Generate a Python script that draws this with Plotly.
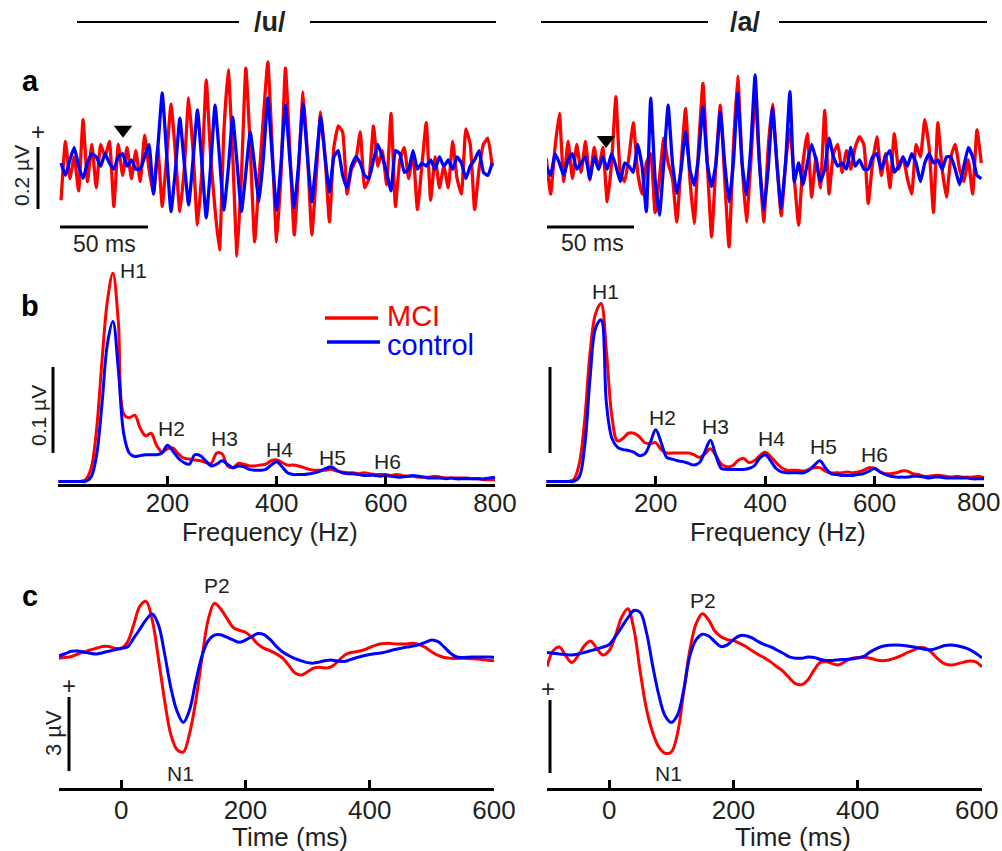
import plotly.graph_objects as go

# ------------------------------------------------------------------ data
# (a) frequency-following responses, µV, sampled every FFR_DT_MS from FFR_T0
FFR_DT_MS = 2.5
FFR_T0_U = -35.2
FFR_T0_A = -34.3

FFR_U_MCI = [
    -0.12, 0.07, -0.05, 0.02, -0.09, 0.14, -0.06, 0.06, -0.08, 0.06,
    0.02, 0.07, -0.14, 0.06, -0.04, 0.05, -0.05, 0.04, -0.06, 0.09,
    -0.02, -0.10, 0.05, -0.14, 0.02, 0.19, 0.03, -0.157, -0.02, 0.21,
    0.04, -0.20, -0.03, 0.268, 0.02, -0.15, -0.28, 0.10, 0.30, 0.03,
    -0.30, -0.04, 0.306, 0.05, -0.254, -0.05, 0.15, 0.326, 0.05, -0.254,
    -0.03, 0.306, 0.04, -0.232, -0.02, 0.229, 0.03, -0.232, -0.04, 0.165,
    0.02, -0.19, 0.05, 0.12, 0.10, -0.10, -0.02, 0.01, 0.10, -0.08,
    -0.05, 0.12, -0.01, 0.04, -0.07, 0.16, -0.14, 0.01, 0.05, -0.05,
    0.03, -0.15, -0.01, 0.13, -0.12, 0.02, -0.08, -0.01, -0.08, 0.07,
    -0.05, -0.10, 0.11, 0.06, -0.15, -0.02, 0.06, 0.08, -0.01,
]
FFR_U_CTRL = [
    0.0, -0.04, 0.01, 0.05, -0.01, -0.05, 0.0, 0.03, 0.02, -0.01,
    0.03, 0.0, -0.02, 0.02, 0.03, -0.01, 0.01, -0.02, -0.02, 0.02,
    0.06, -0.10, 0.05, 0.226, 0.03, -0.157, -0.02, 0.145, 0.0, -0.135,
    0.01, 0.171, 0.0, -0.177, -0.01, 0.187, 0.02, -0.152, -0.02, 0.148,
    0.0, -0.157, -0.03, 0.10, -0.01, -0.125, 0.02, 0.21, 0.02, -0.152,
    0.0, 0.187, 0.01, -0.145, 0.0, 0.19, 0.02, -0.125, 0.01, 0.148,
    0.02, -0.093, 0.02, 0.04, -0.04, -0.08, -0.01, 0.02, 0.0, -0.04,
    -0.05, 0.01, 0.06, 0.02, -0.03, -0.09, 0.04, 0.03, -0.03, -0.02,
    0.04, -0.02, 0.0, -0.01, 0.01, -0.02, 0.02, -0.01, 0.01, -0.02,
    0.02, 0.0, -0.05, -0.01, 0.01, 0.04, -0.03, -0.04, 0.0,
]
FFR_A_MCI = [
    0.015, -0.10, 0.05, 0.16, -0.06, 0.07, -0.05, 0.06, -0.03, 0.07,
    -0.055, 0.05, -0.02, 0.05, -0.125, 0.0, 0.214, -0.03, -0.06, 0.02,
    0.13, -0.03, -0.10, 0.0, 0.03, -0.16, -0.05, 0.08, 0.0, -0.05,
    -0.19, 0.0, 0.176, -0.05, -0.195, 0.05, 0.257, 0.0, -0.238, 0.0,
    0.187, -0.05, -0.27, 0.05, 0.28, 0.0, -0.19, 0.0, 0.214, 0.0,
    -0.19, 0.05, 0.19, 0.0, -0.17, 0.0, 0.11, -0.05, -0.20, 0.0,
    0.095, -0.11, 0.02, -0.08, 0.17, -0.10, 0.03, 0.06, -0.03, 0.04,
    -0.02, 0.05, 0.085, 0.06, -0.13, 0.0, 0.085, -0.04, 0.03, -0.08,
    0.095, -0.02, 0.02, -0.05, -0.10, 0.06, 0.02, 0.14, 0.05, -0.16,
    0.13, -0.02, -0.11, 0.02, 0.06, -0.02, -0.06, 0.01, -0.10, 0.107,
    0.0,
]
FFR_A_CTRL = [
    -0.01, -0.04, 0.03, 0.0, -0.04, 0.01, 0.03, -0.02, 0.0, 0.02,
    -0.05, 0.02, -0.02, 0.02, -0.02, 0.03, -0.01, -0.06, 0.0, -0.01,
    -0.03, 0.06, -0.01, -0.157, 0.209, -0.05, -0.168, 0.0, 0.187, 0.0,
    -0.098, -0.02, 0.101, -0.02, -0.071, 0.02, 0.181, 0.0, -0.076, 0.0,
    0.165, 0.0, -0.125, 0.0, 0.225, 0.0, -0.103, 0.05, 0.284, 0.0,
    -0.152, -0.02, 0.176, 0.0, -0.147, 0.0, 0.23, -0.06, 0.0, -0.07,
    0.0, 0.06, 0.01, -0.06, -0.02, 0.08, 0.02, -0.01, 0.0, -0.02,
    0.05, -0.01, 0.01, -0.02, -0.02, 0.02, 0.03, -0.02, 0.02, 0.04,
    -0.03, -0.01, 0.02, -0.01, 0.03, 0.0, -0.06, 0.0, 0.03, 0.0,
    0.01, -0.02, 0.02, 0.02, -0.02, -0.07, -0.01, 0.05, 0.02, -0.04,
    -0.05,
]
STIM_ONSET_MS = 0.0

# (b) spectra, µV, every SPEC_DF_HZ from 0 Hz
SPEC_F0_HZ = 0
SPEC_DF_HZ = 10
SPEC_U_MCI = [
    0, 0, 0, 0, 0, 0.002, 0.015, 0.06, 0.14, 0.21,
    0.242, 0.185, 0.078, 0.074, 0.077, 0.062, 0.053, 0.056, 0.042, 0.034,
    0.038, 0.039, 0.032, 0.027, 0.026, 0.025, 0.024, 0.022, 0.021, 0.033,
    0.032, 0.018, 0.016, 0.021, 0.020, 0.018, 0.018, 0.019, 0.020, 0.024,
    0.025, 0.022, 0.019, 0.019, 0.018, 0.016, 0.014, 0.013, 0.013, 0.013,
    0.014, 0.012, 0.011, 0.010, 0.010, 0.009, 0.010, 0.009, 0.008, 0.008,
    0.008, 0.007, 0.008, 0.007, 0.006, 0.006, 0.005, 0.005, 0.005, 0.006,
    0.005, 0.004, 0.004, 0.004, 0.004, 0.004, 0.003, 0.003, 0.002, 0.002,
    0.002,
]
SPEC_U_CTRL = [
    0, 0, 0, 0, 0, 0, 0.005, 0.03, 0.09, 0.16,
    0.186, 0.13, 0.055, 0.033, 0.029, 0.030, 0.031, 0.031, 0.031, 0.033,
    0.042, 0.035, 0.027, 0.022, 0.020, 0.031, 0.030, 0.024, 0.018, 0.020,
    0.024, 0.020, 0.016, 0.018, 0.017, 0.014, 0.013, 0.013, 0.014, 0.019,
    0.023, 0.017, 0.010, 0.008, 0.008, 0.008, 0.009, 0.010, 0.012, 0.015,
    0.017, 0.013, 0.010, 0.009, 0.009, 0.008, 0.007, 0.007, 0.007, 0.006,
    0.007, 0.006, 0.005, 0.005, 0.006, 0.007, 0.006, 0.005, 0.004, 0.004,
    0.004, 0.003, 0.004, 0.003, 0.003, 0.003, 0.003, 0.003, 0.003, 0.004,
    0.005,
]
SPEC_A_MCI = [
    0, 0, 0, 0, 0, 0.002, 0.02, 0.07, 0.15, 0.195,
    0.207, 0.15, 0.075, 0.047, 0.050, 0.056, 0.056, 0.052, 0.045, 0.044,
    0.045, 0.037, 0.033, 0.033, 0.033, 0.033, 0.033, 0.031, 0.028, 0.032,
    0.038, 0.030, 0.020, 0.017, 0.018, 0.024, 0.027, 0.022, 0.024, 0.030,
    0.034, 0.029, 0.022, 0.016, 0.013, 0.013, 0.013, 0.012, 0.014, 0.016,
    0.016, 0.012, 0.010, 0.010, 0.010, 0.011, 0.010, 0.011, 0.013, 0.016,
    0.015, 0.011, 0.009, 0.009, 0.010, 0.012, 0.012, 0.009, 0.008, 0.006,
    0.006, 0.007, 0.007, 0.006, 0.005, 0.006, 0.005, 0.005, 0.005, 0.006,
    0.004,
]
SPEC_A_CTRL = [
    0, 0, 0, 0, 0, 0, 0.005, 0.04, 0.12, 0.178,
    0.188, 0.09, 0.050, 0.040, 0.037, 0.036, 0.034, 0.030, 0.032, 0.045,
    0.060, 0.045, 0.028, 0.026, 0.024, 0.023, 0.021, 0.019, 0.022, 0.035,
    0.048, 0.030, 0.015, 0.014, 0.014, 0.014, 0.014, 0.015, 0.018, 0.027,
    0.031, 0.024, 0.015, 0.011, 0.010, 0.010, 0.010, 0.010, 0.013, 0.019,
    0.024, 0.016, 0.009, 0.008, 0.007, 0.007, 0.007, 0.008, 0.009, 0.012,
    0.015, 0.011, 0.008, 0.006, 0.005, 0.005, 0.005, 0.006, 0.006, 0.005,
    0.004, 0.005, 0.005, 0.004, 0.004, 0.004, 0.004, 0.004, 0.003, 0.003,
    0.003,
]
HARMONICS = ["H1", "H2", "H3", "H4", "H5", "H6"]
H_LABEL_HZ_U = [137, 208, 304, 405, 502, 603]
H_LABEL_UV_U = [0.245, 0.062, 0.050, 0.037, 0.028, 0.023]
H_LABEL_HZ_A = [108, 213, 309, 411, 507, 600]
H_LABEL_UV_A = [0.221, 0.074, 0.064, 0.050, 0.041, 0.031]

# (c) cortical ERPs, µV, every 10 ms from -100 ms
ERP_T0_MS = -100
ERP_DT_MS = 10
ERP_U_MCI = [
    -0.25, -0.22, -0.18, -0.08, 0.0, 0.08, 0.15, 0.22, 0.22, 0.15,
    0.14, 0.39, 1.09, 1.85, 2.05, 1.3, -0.26, -1.97, -3.35, -3.95,
    -4.05, -3.31, -2.0, -0.25, 1.29, 1.97, 1.75, 1.37, 1.0, 0.88,
    0.8, 0.6, 0.32, 0.15, 0.05, -0.08, -0.25, -0.55, -0.85, -0.93,
    -0.8, -0.65, -0.62, -0.65, -0.57, -0.35, -0.12, -0.02, 0.02, 0.08,
    0.18, 0.28, 0.33, 0.35, 0.33, 0.32, 0.33, 0.35, 0.3, 0.18,
    0.0, -0.14, -0.22, -0.25, -0.26, -0.25, -0.26, -0.28, -0.3, -0.33,
    -0.35,
]
ERP_U_CTRL = [
    -0.16, -0.07, 0.03, 0.04, 0.0, -0.05, -0.08, -0.03, 0.03, 0.09,
    0.15, 0.2, 0.55, 0.92, 1.3, 1.54, 1.1, -0.08, -1.45, -2.4,
    -2.85, -2.35, -1.2, -0.17, 0.45, 0.68, 0.7, 0.6, 0.49, 0.39,
    0.48, 0.62, 0.75, 0.7, 0.5, 0.22, 0.0, -0.15, -0.27, -0.36,
    -0.43, -0.45, -0.4, -0.34, -0.33, -0.37, -0.38, -0.3, -0.22, -0.15,
    -0.1, -0.06, -0.03, 0.03, 0.1, 0.15, 0.2, 0.24, 0.3, 0.4,
    0.49, 0.42, 0.2, -0.05, -0.2, -0.22, -0.21, -0.2, -0.2, -0.2,
    -0.21,
]
ERP_A_MCI = [
    -0.59, 0.05, 0.2, -0.15, -0.42, -0.15, 0.25, 0.45, 0.15, -0.12,
    0.05, 0.65, 1.4, 1.75, 0.9, -0.8, -2.3, -3.25, -3.85, -4.1,
    -4.05, -3.3, -1.6, 0.1, 1.15, 1.55, 1.3, 0.85, 0.62, 0.5,
    0.46, 0.35, 0.22, 0.05, -0.1, -0.24, -0.4, -0.6, -0.78, -1.05,
    -1.28, -1.32, -1.12, -0.72, -0.42, -0.4, -0.48, -0.52, -0.38, -0.26,
    -0.22, -0.21, -0.25, -0.32, -0.35, -0.32, -0.25, -0.15, -0.02, 0.08,
    0.18, 0.15, -0.05, -0.3, -0.48, -0.53, -0.48, -0.42, -0.36, -0.4,
    -0.6,
]
ERP_A_CTRL = [
    -0.02, -0.05, -0.08, -0.1, -0.12, -0.08, -0.02, 0.05, 0.12, 0.2,
    0.3, 0.62, 1.0, 1.38, 1.68, 1.6, 0.8, -0.55, -1.75, -2.58,
    -2.85, -2.55, -1.54, -0.15, 0.5, 0.72, 0.65, 0.42, 0.22, 0.29,
    0.5, 0.66, 0.66, 0.57, 0.42, 0.3, 0.21, 0.08, -0.05, -0.2,
    -0.25, -0.25, -0.2, -0.22, -0.3, -0.34, -0.34, -0.31, -0.3, -0.28,
    -0.24, -0.18, 0.0, 0.14, 0.23, 0.27, 0.28, 0.27, 0.24, 0.2,
    0.15, 0.1, 0.1, 0.18, 0.26, 0.28, 0.25, 0.19, 0.1, -0.05,
    -0.24,
]
ERP_LABELS = ["P2", "N1"]
ERP_LABEL_MS_U = [155, 95]
ERP_LABEL_UV_U = [2.7, -4.9]
ERP_LABEL_MS_A = [151, 95]
ERP_LABEL_UV_A = [2.1, -4.9]

FREQ_TICKS = [0, 200, 400, 600, 800]
TIME_TICKS = [0, 200, 400, 600]

# ------------------------------------------------------------------ style
W, H = 1002, 851          # reference canvas; all geometry below is expressed in these pixels
RED, BLUE, INK = "#ff0000", "#0000ff", "#231f20"
FONT = "Liberation Sans, Arial, Helvetica, sans-serif"


def px(x):
    return x / W


def py(y):
    return 1 - y / H


fig = go.Figure()

# panel geometry in pixels: x-domain, x-range, y-domain (top, bottom), y-range
PANELS = {
    1: dict(xd=(59, 495), xr=(-36.36, 211.36), yd=(50, 270), yr=(-0.345, 0.3645)),
    2: dict(xd=(547, 984), xr=(-33.91, 217.24), yd=(50, 270), yr=(-0.345, 0.3645)),
    3: dict(xd=(58.3, 495), xr=(0, 800), yd=(258, 484), yr=(-0.003, 0.2598)),
    4: dict(xd=(546.3, 984), xr=(0, 800), yd=(258, 484), yr=(-0.003, 0.2598)),
    5: dict(xd=(59, 494), xr=(-100, 600), yd=(560, 788), yr=(-5.506, 3.725)),
    6: dict(xd=(547, 982), xr=(-100, 600), yd=(560, 788), yr=(-5.506, 3.725)),
}


def ax(n):
    return ("x" if n == 1 else f"x{n}"), ("y" if n == 1 else f"y{n}")


def add_line(n, y, color, x0, dx, shape="spline", smooth=1.0, width=3):
    xa, ya = ax(n)
    fig.add_trace(go.Scatter(
        x0=x0, dx=dx, y=y, mode="lines", xaxis=xa, yaxis=ya,
        line=dict(color=color, width=width, shape=shape, smoothing=smooth),
        showlegend=False, hoverinfo="skip"))


# (a)
add_line(1, FFR_U_MCI, RED, FFR_T0_U, FFR_DT_MS, smooth=0.4, width=3.3)
add_line(1, FFR_U_CTRL, BLUE, FFR_T0_U, FFR_DT_MS, smooth=0.4, width=3.3)
add_line(2, FFR_A_MCI, RED, FFR_T0_A, FFR_DT_MS, smooth=0.4, width=3.3)
add_line(2, FFR_A_CTRL, BLUE, FFR_T0_A, FFR_DT_MS, smooth=0.4, width=3.3)
for n, yv in ((1, 0.107), (2, 0.074)):
    xa, ya = ax(n)
    fig.add_trace(go.Scatter(x=[STIM_ONSET_MS], y=[yv], mode="markers", xaxis=xa, yaxis=ya,
                             marker=dict(symbol="triangle-down", size=16, color="black"),
                             showlegend=False, hoverinfo="skip"))
# (b)
add_line(3, SPEC_U_MCI, RED, SPEC_F0_HZ, SPEC_DF_HZ)
add_line(3, SPEC_U_CTRL, BLUE, SPEC_F0_HZ, SPEC_DF_HZ)
add_line(4, SPEC_A_MCI, RED, SPEC_F0_HZ, SPEC_DF_HZ)
add_line(4, SPEC_A_CTRL, BLUE, SPEC_F0_HZ, SPEC_DF_HZ)
# (c)
add_line(5, ERP_U_MCI, RED, ERP_T0_MS, ERP_DT_MS)
add_line(5, ERP_U_CTRL, BLUE, ERP_T0_MS, ERP_DT_MS)
add_line(6, ERP_A_MCI, RED, ERP_T0_MS, ERP_DT_MS)
add_line(6, ERP_A_CTRL, BLUE, ERP_T0_MS, ERP_DT_MS)

layout = dict(
    autosize=True,
    margin=dict(l=0, r=0, t=0, b=0, pad=0, autoexpand=False),
    paper_bgcolor="white", plot_bgcolor="rgba(0,0,0,0)",
    font=dict(family=FONT, color=INK),
    showlegend=False,
)
# the last label of the right-hand axes sits at the page edge; in the reference it is
# nudged inwards, so it is drawn as an annotation instead of an axis tick label
EDGE_LABEL_AXES = {4: 800, 6: 600}
for n, p in PANELS.items():
    xk = "xaxis" if n == 1 else f"xaxis{n}"
    yk = "yaxis" if n == 1 else f"yaxis{n}"
    xa, ya = ax(n)
    xaxis = dict(domain=[px(p["xd"][0]), px(p["xd"][1])], range=list(p["xr"]),
                 anchor=ya, showgrid=False, zeroline=False, fixedrange=True, automargin=False)
    if n in (1, 2):
        xaxis.update(visible=False)
    else:
        ticks = FREQ_TICKS if n in (3, 4) else TIME_TICKS
        labels = []
        for t in ticks:
            if (n in (3, 4) and t == 0) or EDGE_LABEL_AXES.get(n) == t:
                labels.append("")
            else:
                labels.append(str(t))
        xaxis.update(visible=True, showline=True, linecolor="black", linewidth=3,
                     ticks="inside", ticklen=8, tickwidth=3, tickcolor="black",
                     tickvals=ticks, ticktext=labels,
                     ticklabelstandoff=(-6 if n in (3, 4) else -3),
                     tickfont=dict(size=26, color=INK, family=FONT))
    layout[xk] = xaxis
    layout[yk] = dict(domain=[py(p["yd"][1]), py(p["yd"][0])], range=list(p["yr"]),
                      anchor=xa, visible=False, showgrid=False, zeroline=False,
                      fixedrange=True, automargin=False)

fig.update_layout(**layout)

shapes = []


def seg(x0, y0, x1, y1, w=3, color="black"):
    shapes.append(dict(type="line", xref="paper", yref="paper",
                       x0=px(x0), y0=py(y0), x1=px(x1), y1=py(y1),
                       line=dict(color=color, width=w)))


# header rules
seg(77, 22, 239, 22, w=1.8)
seg(310, 22, 496, 22, w=1.8)
seg(541, 22, 708, 22, w=1.8)
seg(779, 22, 987, 22, w=1.8)
# scale bars
seg(38, 147, 38, 209)
seg(60, 227, 148, 227)
seg(547, 227, 634, 227)
seg(53, 367, 53, 453)
seg(550, 367, 550, 453)
seg(69, 697, 69, 771)
seg(550, 700, 550, 773)
# legend swatches
seg(325, 318, 378, 318, w=3.5, color=RED)
seg(327, 342, 380, 342, w=3.5, color=BLUE)

ann = []


def text(s, x, y, size, color=INK, bold=False, angle=0, xanchor="center"):
    ann.append(dict(text=(f"<b>{s}</b>" if bold else s), x=px(x), y=py(y),
                    xref="paper", yref="paper", showarrow=False, borderpad=0,
                    xanchor=xanchor, yanchor="middle", textangle=angle,
                    font=dict(size=size, color=color, family=FONT)))


text("/u/", 270, 22, 27, bold=True)
text("/a/", 745, 22, 27, bold=True)
text("a", 30, 81, 29, color="black", bold=True)
text("b", 30, 306, 29, color="black", bold=True)
text("c", 30, 596, 29, color="black", bold=True)
text("+", 38, 131, 24)
text("0.2 µV", 22, 176, 21, angle=-90)
text("50 ms", 104, 244, 23)
text("50 ms", 592, 243, 23)
text("0.1 µV", 38, 416, 21, angle=-90)
text("MCI", 386, 316, 29, color=RED, xanchor="left")
text("control", 386, 345, 29, color=BLUE, xanchor="left")
text("Frequency (Hz)", 270, 532, 25.5)
text("Frequency (Hz)", 778, 532, 25.5)
text("+", 69, 685, 24)
text("+", 548, 688, 24)
text("3 µV", 53, 733, 22, angle=-90)
text("Time (ms)", 290, 837, 26)
text("Time (ms)", 793, 837, 26)

# edge tick labels (x in data units of their axis, nudged to stay inside the page)
for n, tick_y in ((4, 502), (6, 810)):
    xa, _ = ax(n)
    ann.append(dict(text=str(EDGE_LABEL_AXES[n]), x=EDGE_LABEL_AXES[n], xref=xa,
                    y=py(tick_y), yref="paper", xanchor="center", yanchor="middle",
                    xshift=-6, showarrow=False, borderpad=0,
                    font=dict(size=26, color=INK, family=FONT)))

for lab, f, v in zip(HARMONICS, H_LABEL_HZ_U, H_LABEL_UV_U):
    ann.append(dict(text=lab, x=f, y=v, xref="x3", yref="y3", showarrow=False,
                    font=dict(size=21, color=INK, family=FONT)))
for lab, f, v in zip(HARMONICS, H_LABEL_HZ_A, H_LABEL_UV_A):
    ann.append(dict(text=lab, x=f, y=v, xref="x4", yref="y4", showarrow=False,
                    font=dict(size=21, color=INK, family=FONT)))
for lab, t, v in zip(ERP_LABELS, ERP_LABEL_MS_U, ERP_LABEL_UV_U):
    ann.append(dict(text=lab, x=t, y=v, xref="x5", yref="y5", showarrow=False,
                    font=dict(size=21, color=INK, family=FONT)))
for lab, t, v in zip(ERP_LABELS, ERP_LABEL_MS_A, ERP_LABEL_UV_A):
    ann.append(dict(text=lab, x=t, y=v, xref="x6", yref="y6", showarrow=False,
                    font=dict(size=21, color=INK, family=FONT)))

fig.update_layout(shapes=shapes, annotations=ann)

# the figure fills the whole browser window (page margin removed) so the paper
# coordinates above land on the same pixels as in the reference
PAGE_JS = ("document.documentElement.style.margin='0';document.body.style.margin='0';"
           "document.documentElement.style.overflow='hidden';document.body.style.overflow='hidden';")
fig.write_html("out.html", default_width="100vw", default_height="100vh",
               config={"displayModeBar": False, "staticPlot": True, "responsive": True},
               post_script=PAGE_JS)
